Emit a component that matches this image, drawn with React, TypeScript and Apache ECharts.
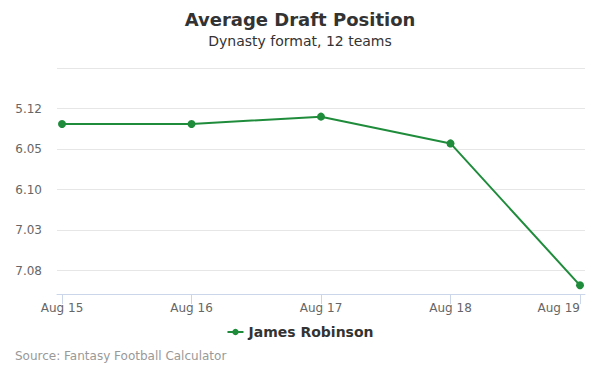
import React, { useEffect, useRef } from "react";
import * as echarts from "echarts";

const categories = ["Aug 15", "Aug 16", "Aug 17", "Aug 18", "Aug 19"];
// overall pick numbers (12-team league)
const adpValues = [61.9, 61.9, 61.0, 64.3, 81.8];
const seriesName = "James Robinson";
const yTicks = [60, 65, 70, 75, 80];

const FONT = "DejaVu Sans, Verdana, sans-serif";

function toRoundPick(v: number): string {
  const n = Math.round(v);
  const round = Math.floor((n - 1) / 12) + 1;
  const pick = ((n - 1) % 12) + 1;
  return `${round}.${pick < 10 ? "0" + pick : pick}`;
}

export default function App() {
  const ref = useRef<HTMLDivElement>(null);
  useEffect(() => {
    if (!ref.current) return;
    const chart = echarts.init(ref.current, null, { renderer: "svg" });
    const idx = categories.map((_, i) => i);
    chart.setOption({
      animation: false,
      backgroundColor: "#ffffff",
      textStyle: { fontFamily: FONT },
      title: [
        {
          text: "Average Draft Position",
          left: "center",
          top: 5,
          textStyle: { fontSize: 18, fontWeight: "bold", color: "#333333", fontFamily: FONT },
        },
        {
          text: "Dynasty format, 12 teams",
          left: "center",
          top: 29,
          textStyle: { fontSize: 14, fontWeight: "normal", color: "#333333", fontFamily: FONT },
        },
      ],
      legend: {
        data: [seriesName],
        left: "center",
        top: 320,
        itemWidth: 16,
        itemHeight: 8,
        itemGap: 5,
        textStyle: { fontSize: 14, fontWeight: "bold", color: "#333333", fontFamily: FONT },
      },
      grid: { left: 57, right: 15, top: 68, bottom: 81, containLabel: false },
      xAxis: {
        type: "value",
        min: -0.0387,
        max: 4.0387,
        splitLine: { show: false },
        axisLine: { onZero: false, lineStyle: { color: "#ccd6eb", width: 1 } },
        axisTick: { show: true, customValues: idx, length: 10, lineStyle: { color: "#ccd6eb" } },
        axisLabel: {
          customValues: idx,
          formatter: (v: number) => categories[Math.round(v)] ?? "",
          color: "#666666",
          fontSize: 12,
          margin: 8,
          alignMaxLabel: "right",
          fontFamily: FONT,
        },
      },
      yAxis: {
        type: "value",
        inverse: true,
        min: 55,
        max: 82.87,
        interval: 5,
        axisLine: { show: false },
        axisTick: { show: false },
        splitLine: { lineStyle: { color: "#e6e6e6", width: 1 } },
        axisLabel: {
          color: "#666666",
          fontSize: 12,
          margin: 15,
          fontFamily: FONT,
          formatter: (v: number) => (yTicks.indexOf(Math.round(v)) >= 0 && Math.abs(v - Math.round(v)) < 0.01 ? toRoundPick(v) : ""),
        },
      },
      series: [
        {
          name: seriesName,
          type: "line",
          data: adpValues.map((v, i) => [i, v]),
          symbol: "circle",
          symbolSize: 8,
          itemStyle: { color: "#1f8c3b" },
          lineStyle: { color: "#1f8c3b", width: 2 },
        },
      ],
      graphic: [
        {
          type: "text",
          left: 15,
          top: 350,
          style: { text: "Source: Fantasy Football Calculator", fill: "#999999", fontSize: 12, fontFamily: FONT },
        },
      ],
    });
    return () => chart.dispose();
  }, []);
  return <div ref={ref} style={{ width: 600, height: 375, margin: -8 }} />;
}
